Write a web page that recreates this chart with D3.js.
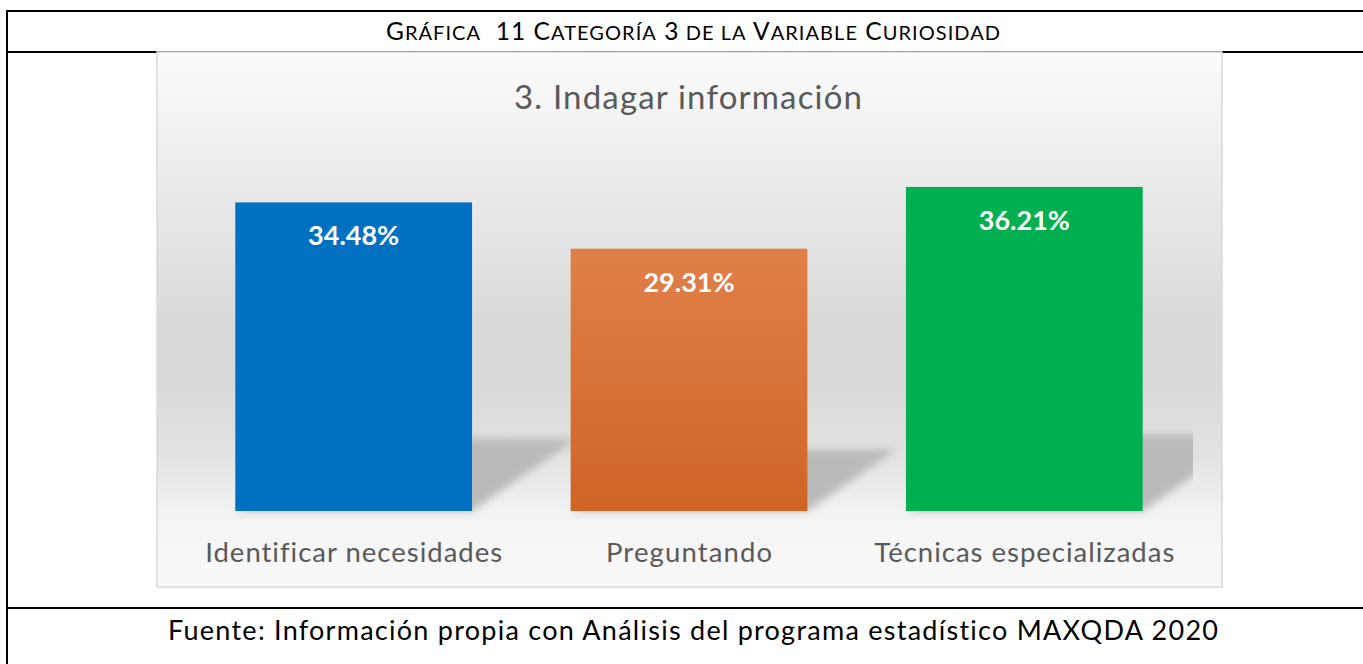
<!DOCTYPE html>
<html>
<head>
<meta charset="utf-8">
<script src="https://cdn.jsdelivr.net/npm/d3@7"></script>
<style>
  html, body { margin: 0; padding: 0; background: #fff; }
  svg { display: block; }
  text { font-variant-ligatures: none; }
</style>
</head>
<body>
<svg id="chart" width="1363" height="664"></svg>
<script>
// ── Data ──
const categories = ["Identificar necesidades", "Preguntando", "Técnicas especializadas"];
const values = [34.48, 29.31, 36.21];
const valueLabels = ["34.48%", "29.31%", "36.21%"];
const chartTitle = "3. Indagar información";
const headerWords = ["Gráfica", " 11", "Categoría", "3", "de", "la", "Variable", "Curiosidad"];
const footerText = "Fuente: Información propia con Análisis del programa estadístico MAXQDA 2020";

const W = 1363, H = 664;
const svg = d3.select('#chart');
const defs = svg.append('defs');

// ── Table borders (document frame round the chart) ──
const frame = svg.append('g').attr('stroke', '#000').attr('stroke-width', 2);
frame.append('line').attr('x1', 6).attr('x2', W).attr('y1', 11).attr('y2', 11);
frame.append('line').attr('x1', 7).attr('x2', 7).attr('y1', 10).attr('y2', H);
frame.append('line').attr('x1', 6).attr('x2', W).attr('y1', 52).attr('y2', 52);
frame.append('line').attr('x1', 6).attr('x2', W).attr('y1', 608).attr('y2', 608);

// Header caption in small caps: first letter of capitalised words large, rest small
const header = svg.append('text')
    .attr('x', 386).attr('y', 40)
    .attr('font-family', 'Lato, sans-serif')
    .attr('fill', '#000')
    .attr('textLength', 614).attr('lengthAdjust', 'spacing');
headerWords.forEach((w, i) => {
    const word = w.trim();
    const lead = (i > 0 ? (w.startsWith(' ') ? '\u00a0\u00a0' : ' ') : '');
    const first = word[0];
    const bigFirst = first === first.toUpperCase();
    header.append('tspan').attr('font-size', bigFirst ? 24.5 : 20)
        .text(lead + (bigFirst ? first : first.toUpperCase()));
    if (word.length > 1) {
        const rest = word.slice(1);
        const isDigits = /^[0-9]+$/.test(rest);
        header.append('tspan').attr('font-size', isDigits ? 24.5 : 20).text(rest.toUpperCase());
    }
});

// Footer source line
svg.append('text')
    .attr('x', 168).attr('y', 640)
    .attr('font-family', 'Lato, sans-serif').attr('font-size', 27)
    .attr('fill', '#000')
    .attr('textLength', 1050).attr('lengthAdjust', 'spacing')
    .text(footerText);

// ── Chart area ──
const bg = defs.append('linearGradient').attr('id', 'bgGrad')
    .attr('x1', 0).attr('x2', 0).attr('y1', 0).attr('y2', 1);
[[0, '#fbfbfb'], [0.2, '#eeeeee'], [0.5, '#dadada'], [0.62, '#d9d9d9'], [0.76, '#e3e3e3'],
 [0.86, '#f3f3f3'], [1, '#f9f9f9']].forEach(([o, c]) =>
    bg.append('stop').attr('offset', o).attr('stop-color', c));

svg.append('rect')
    .attr('x', 157).attr('y', 52).attr('width', 1065).attr('height', 535)
    .attr('fill', 'url(#bgGrad)')
    .attr('stroke', '#d9d9d9').attr('stroke-width', 1.5);

svg.append('text')
    .attr('x', 688).attr('y', 109)
    .attr('text-anchor', 'middle')
    .attr('font-family', 'Lato, sans-serif').attr('font-size', 33)
    .attr('fill', '#595959')
    .attr('textLength', 348).attr('lengthAdjust', 'spacing')
    .text(chartTitle);

// ── Scales ──
const x = d3.scaleBand().domain(categories).range([186, 1192]).paddingInner(0.294).paddingOuter(0.147);
const y = d3.scaleLinear().domain([0, 40]).range([511, 153]);

const orangeGrad = defs.append('linearGradient').attr('id', 'orangeGrad')
    .attr('x1', 0).attr('x2', 0).attr('y1', 0).attr('y2', 1);
orangeGrad.append('stop').attr('offset', 0).attr('stop-color', '#df8049');
orangeGrad.append('stop').attr('offset', 1).attr('stop-color', '#d06426');

const fills = ['#0070c0', 'url(#orangeGrad)', '#00b050'];

// ── Perspective shadows behind the bars ──
defs.append('filter').attr('id', 'blur').attr('x', '-20%').attr('y', '-40%')
    .attr('width', '140%').attr('height', '180%')
    .append('feGaussianBlur').attr('stdDeviation', 4);
defs.append('clipPath').attr('id', 'plotClip')
    .append('rect').attr('x', 186).attr('y', 52).attr('width', 1007).attr('height', 535);

const shadowG = svg.append('g').attr('clip-path', 'url(#plotClip)');
shadowG.selectAll('path')
    .data(values)
    .join('path')
    .attr('d', (d, i) => {
        const x0 = x(categories[i]), x1 = x0 + x.bandwidth();
        const base = y(0);
        const hs = (y(0) - y(d)) * 0.235;
        const dx = hs * 1.45;
        return `M${x0},${base}L${x1},${base}L${x1 + dx},${base - hs}L${x0 + dx},${base - hs}Z`;
    })
    .attr('fill', '#bababa')
    .attr('filter', 'url(#blur)');

// ── Bars ──
svg.append('g').selectAll('rect')
    .data(values)
    .join('rect')
    .attr('x', (d, i) => x(categories[i]))
    .attr('y', d => y(d))
    .attr('width', x.bandwidth())
    .attr('height', d => y(0) - y(d))
    .attr('fill', (d, i) => fills[i]);

// Data labels inside the bar tops
svg.append('g').selectAll('text')
    .data(values)
    .join('text')
    .attr('x', (d, i) => x(categories[i]) + x.bandwidth() / 2)
    .attr('y', d => y(d) + 43)
    .attr('text-anchor', 'middle')
    .attr('font-family', 'Lato, sans-serif').attr('font-weight', 'bold').attr('font-size', 27)
    .attr('fill', '#fff')
    .text((d, i) => valueLabels[i]);

// Category labels
const labelWidths = [297, 166, 300];
svg.append('g').selectAll('text')
    .data(categories)
    .join('text')
    .attr('x', d => x(d) + x.bandwidth() / 2)
    .attr('y', 562)
    .attr('text-anchor', 'middle')
    .attr('font-family', 'Lato, sans-serif').attr('font-size', 27.5)
    .attr('fill', '#595959')
    .attr('textLength', (d, i) => labelWidths[i]).attr('lengthAdjust', 'spacing')
    .text(d => d);
</script>
</body>
</html>
